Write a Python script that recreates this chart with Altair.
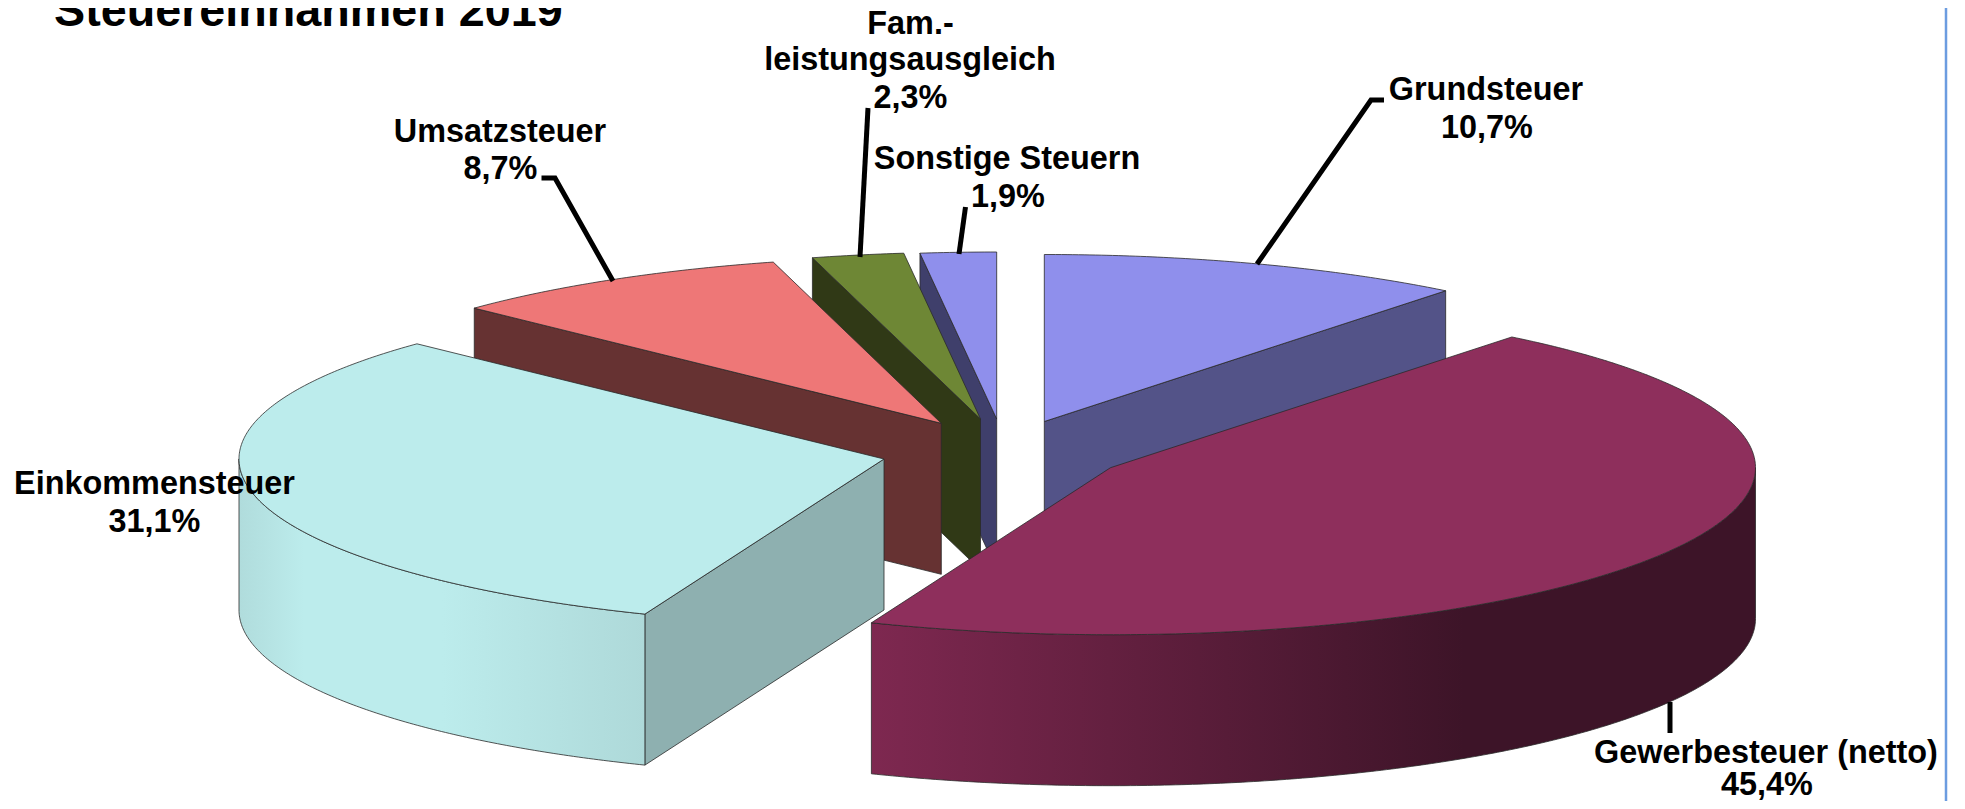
import math
import altair as alt

# Chart values
names = ["Grundsteuer", "Gewerbesteuer (netto)", "Einkommensteuer", "Umsatzsteuer", "Fam.-leistungsausgleich", "Sonstige Steuern"]
shares = [10.7, 45.4, 31.1, 8.7, 2.3, 1.9]
share_labels = ["10,7%", "45,4%", "31,1%", "8,7%", "2,3%", "1,9%"]
title_text = "Steuereinnahmen 2019"

# Exploded-pie geometry, in page pixels
apex_x = [1044.3, 1110.5, 884, 941.3, 980.5, 996.7]
apex_y = [421.5, 467.7, 459, 423.3, 419, 419]
RX, RY, DEPTH = 645, 167, 151
W, H = 1949, 793

# Styles
top_colors = ["#8f8fec", "#8e2f5c", "#bcecec", "#ee7777", "#6e8735", "#8f8fec"]
side_colors = ["#535388", "#7e2850", "#8eb0b0", "#663232", "#303916", "#3f3f6b"]
rim_stops = {
    1: [(0, "#7e2850"), (0.67, "#3d1428"), (1, "#3d1428")],
    2: [(0, "#b0dcdc"), (0.16, "#bcecec"), (0.5, "#bcecec"), (1, "#aed9d9")],
}
draw_order = [5, 4, 3, 0, 2, 1]
EDGE = "#2a2a2a"
BLUE = "#6c9ce0"

total = sum(shares)
starts, ends, acc = [], [], 0.0
for s in shares:
    starts.append(acc / total * 360)
    acc += s
    ends.append(acc / total * 360)


def rim(i, t):
    a = math.radians(t)
    return [apex_x[i] + RX * math.sin(a), apex_y[i] - RY * math.cos(a)]


def arc(i, t1, t2):
    n = max(2, int(abs(t2 - t1) * 2))
    return [rim(i, t1 + (t2 - t1) * k / n) for k in range(n + 1)]


def drop(p):
    return [p[0], p[1] + DEPTH]


def feature(pts):
    ring = [list(p) for p in pts] + [list(pts[0])]
    return {"type": "Feature", "properties": {}, "geometry": {"type": "Polygon", "coordinates": [ring]}}


def shape(pts, fill):
    return (
        alt.Chart(alt.Data(values=[feature(pts)]))
        .mark_geoshape(fill=fill, stroke=EDGE, strokeWidth=0.8, strokeJoin="round")
        .project(type="identity", scale=1, translate=[-8, -8])
    )


layers = []
for i in draw_order:
    apex = [apex_x[i], apex_y[i]]
    t1, t2 = starts[i], ends[i]
    for t, visible in ((t1, math.sin(math.radians(t1)) < -1e-6), (t2, math.sin(math.radians(t2)) > 1e-6)):
        if visible:
            p = rim(i, t)
            layers.append(shape([apex, p, drop(p), drop(apex)], side_colors[i]))
    lo, hi = max(t1, 90), min(t2, 270)
    if lo < hi:
        edge = arc(i, lo, hi)
        stops = [alt.GradientStop(offset=o, color=c) for o, c in rim_stops[i]]
        grad = alt.LinearGradient(gradient="linear", x1=0, x2=1, y1=0, y2=0, stops=stops)
        layers.append(shape(edge + [drop(p) for p in reversed(edge)], grad))
    layers.append(shape([apex] + arc(i, t1, t2), top_colors[i]))

xs = alt.Scale(domain=[8, 8 + W], range=[0, W], nice=False, zero=False)
ys = alt.Scale(domain=[8, 8 + H], range=[0, H], nice=False, zero=False)

# Leader lines
leaders = [
    ("Grundsteuer", [(1257, 264), (1371, 100), (1384, 100)]),
    ("Gewerbe", [(1670, 702), (1670, 733)]),
    ("Umsatz", [(613, 281), (555, 178), (541.5, 178)]),
    ("Fam", [(860, 257), (868, 108)]),
    ("Sonstige", [(959, 254), (965.5, 207)]),
]
leader_rows = [
    {"who": w, "o": k, "x": p[0], "y": p[1]} for w, pts in leaders for k, p in enumerate(pts)
]
leader_chart = (
    alt.Chart(alt.Data(values=leader_rows))
    .mark_line(color="black", strokeWidth=5, strokeCap="butt", strokeJoin="miter", clip=False)
    .encode(
        x=alt.X("x:Q", scale=xs, axis=None),
        y=alt.Y("y:Q", scale=ys, axis=None),
        detail="who:N",
        order="o:Q",
    )
)

# Labels
text_rows = [
    {"t": names[0], "x": 1486, "y": 100},
    {"t": share_labels[0], "x": 1487, "y": 138},
    {"t": names[1], "x": 1766, "y": 763},
    {"t": share_labels[1], "x": 1767, "y": 795},
    {"t": names[2], "x": 154.5, "y": 494},
    {"t": share_labels[2], "x": 154.5, "y": 532},
    {"t": names[3], "x": 500, "y": 142},
    {"t": share_labels[3], "x": 500.5, "y": 179},
    {"t": "Fam.-", "x": 910.5, "y": 34},
    {"t": "leistungsausgleich", "x": 910, "y": 70},
    {"t": share_labels[4], "x": 910.5, "y": 108},
    {"t": names[5], "x": 1007, "y": 169},
    {"t": share_labels[5], "x": 1008, "y": 207},
]
label_chart = (
    alt.Chart(alt.Data(values=text_rows))
    .mark_text(font="Liberation Sans", fontWeight="bold", fontSize=32.4, baseline="alphabetic", align="center", color="black")
    .encode(x=alt.X("x:Q", scale=xs, axis=None), y=alt.Y("y:Q", scale=ys, axis=None), text="t:N")
)
title_chart = (
    alt.Chart(alt.Data(values=[{"t": title_text, "x": 54, "y": 26}]))
    .mark_text(font="Liberation Sans", fontWeight="bold", fontSize=46.7, baseline="alphabetic", align="left", color="black")
    .encode(x=alt.X("x:Q", scale=xs, axis=None), y=alt.Y("y:Q", scale=ys, axis=None), text="t:N")
)
frame_chart = (
    alt.Chart(alt.Data(values=[{"x": 1946}]))
    .mark_rule(color=BLUE, strokeWidth=2.5)
    .encode(x=alt.X("x:Q", scale=xs, axis=None))
)

chart = (
    alt.layer(*layers, leader_chart, frame_chart, label_chart, title_chart)
    .properties(width=W, height=H, padding=0, background="white", autosize=alt.AutoSizeParams(type="none"))
    .configure_view(strokeWidth=0)
)
chart.save("out.html", embed_options={"renderer": "svg", "actions": False})
